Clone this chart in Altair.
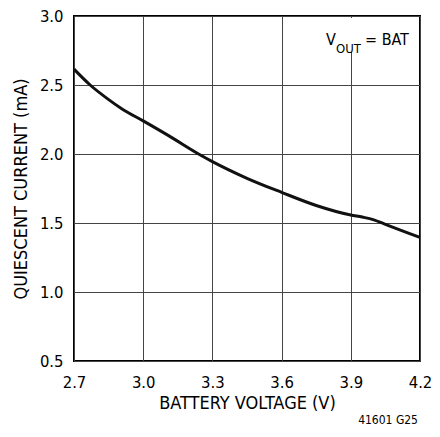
import altair as alt
import pandas as pd

voltage = [2.7, 2.77, 2.84, 2.91, 3.0, 3.11, 3.24, 3.3, 3.45, 3.6, 3.75, 3.9, 3.95, 4.0, 4.05, 4.2]
current = [2.615, 2.5, 2.407, 2.325, 2.24, 2.133, 2.0, 1.945, 1.824, 1.722, 1.627, 1.558, 1.543, 1.523, 1.49, 1.395]

x_ticks = [2.7, 3.0, 3.3, 3.6, 3.9, 4.2]
y_ticks = [0.5, 1.0, 1.5, 2.0, 2.5, 3.0]

df = pd.DataFrame({"v": voltage, "i": current})

FONT = "DejaVu Sans Condensed"
W, H = 346, 345

x_scale = alt.Scale(domain=[2.7, 4.2], nice=False, zero=False)
y_scale = alt.Scale(domain=[0.5, 3.0], nice=False, zero=False)

line = alt.Chart(df).mark_line(color="#111111", strokeWidth=3, interpolate="monotone").encode(
    x=alt.X("v:Q", scale=x_scale, title="BATTERY VOLTAGE (V)",
            axis=alt.Axis(values=x_ticks, format=".1f", grid=True, ticks=False,
                          labelPadding=13, titlePadding=4, labelFontSize=16.5,
                          titleFontSize=18, labelFlush=False)),
    y=alt.Y("i:Q", scale=y_scale, title="QUIESCENT CURRENT (mA)",
            axis=alt.Axis(values=y_ticks, format=".1f", grid=True, ticks=False,
                          labelPadding=11, titlePadding=9, labelFontSize=16.5,
                          titleFontSize=18, labelFlush=False)),
)

box = alt.Chart(pd.DataFrame({"a": [0]})).mark_rect(color="white").encode(
    x=alt.value(248), x2=alt.value(341), y=alt.value(2), y2=alt.value(36)
)

t_v = alt.Chart(pd.DataFrame({"t": ["V"]})).mark_text(
    font=FONT, fontSize=16, align="left", baseline="alphabetic", color="black"
).encode(text="t:N", x=alt.value(252), y=alt.value(29))
t_out = alt.Chart(pd.DataFrame({"t": ["OUT"]})).mark_text(
    font=FONT, fontSize=13, align="left", baseline="alphabetic", color="black"
).encode(text="t:N", x=alt.value(262), y=alt.value(37))
t_bat = alt.Chart(pd.DataFrame({"t": ["= BAT"]})).mark_text(
    font=FONT, fontSize=16, align="left", baseline="alphabetic", color="black"
).encode(text="t:N", x=alt.value(291), y=alt.value(29))

code = alt.Chart(pd.DataFrame({"t": ["41601 G25"]})).mark_text(
    font=FONT, fontSize=12, align="right", baseline="alphabetic", color="black"
).encode(text="t:N", x=alt.value(344), y=alt.value(408))

chart = alt.layer(line, box, t_v, t_out, t_bat, code).properties(
    width=W, height=H,
    background="white",
    autosize=alt.AutoSizeParams(type="none"),
    padding={"left": 66, "top": 8, "right": 12, "bottom": 67},
).configure_view(
    stroke="black", strokeWidth=2
).configure_axis(
    labelFont=FONT, titleFont=FONT, labelColor="black", titleColor="black",
    titleFontWeight="normal", gridColor="#444444", gridWidth=1, gridOpacity=1,
    domain=False
)

chart.save("out.html", embed_options={"renderer": "svg", "actions": False})
